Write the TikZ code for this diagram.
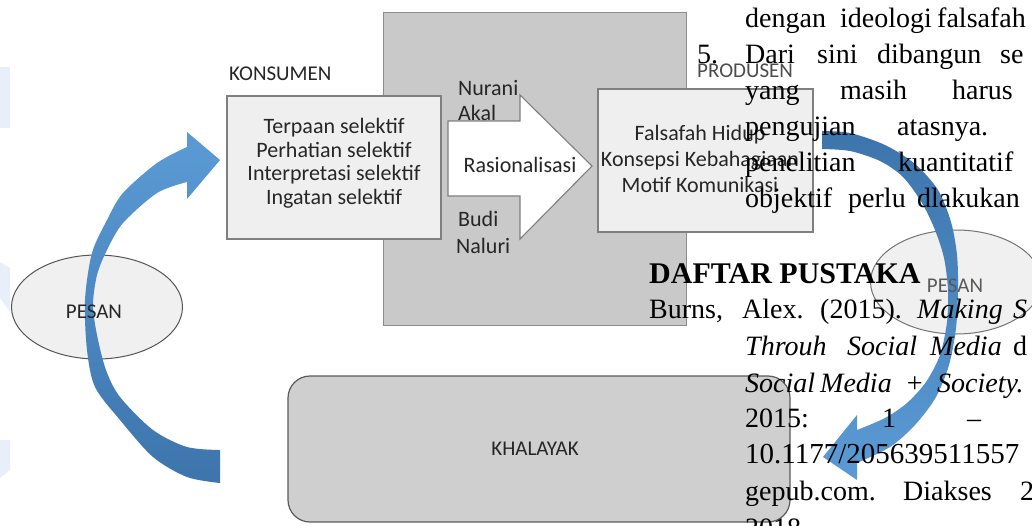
\documentclass[tikz,border=0pt]{standalone}
\usepackage{fontspec}
\setmainfont{Liberation Serif}
\newfontfamily\calfont{Carlito}
\usetikzlibrary{shapes.geometric}
\definecolor{rectgray}{HTML}{C9C9C9}
\definecolor{rectline}{HTML}{8C8C8C}
\definecolor{boxfill}{HTML}{EFEFEF}
\definecolor{boxline}{HTML}{7F7F7F}
\definecolor{khfill}{HTML}{CFCFCF}
\definecolor{khline}{HTML}{5A5A5A}
\definecolor{ellfill}{HTML}{F0F0F0}
\definecolor{ellline}{HTML}{555555}
\definecolor{blueL}{HTML}{5B9BD5}
\definecolor{blueD}{HTML}{3D74AC}
\definecolor{diagtext}{HTML}{262626}
\definecolor{wm}{HTML}{E8EFFA}
\tikzset{
  dtext/.style={font={\calfont\fontsize{22}{23.5}\selectfont}, text=diagtext, inner sep=0pt},
  lbl/.style={font={\calfont\fontsize{21}{24}\selectfont}, text=diagtext, inner sep=0pt},
  boxst/.style={draw=boxline, fill=boxfill, line width=1.1pt, inner sep=0pt},
  ellst/.style={ellipse, draw=ellline, fill=ellfill, line width=1pt, inner sep=0pt, minimum width=171pt, minimum height=104pt},
  pg/.style={font={\fontsize{28}{36}\selectfont}, text=black, inner sep=0pt, anchor=base west},
  pgi/.style={pg, font={\fontsize{28}{36}\selectfont\itshape}},
}
\begin{document}
\begin{tikzpicture}[x=1pt,y=-1pt]
\useasboundingbox (0,0) rectangle (1032,525);
\clip (0,0) rectangle (1032,525);
\fill[white] (0,0) rectangle (1032,525);
% faint watermark shapes
\fill[wm] (0,67) rectangle (10,128);
\fill[wm] (0,262) -- (10,268) -- (10,312) -- (0,298) -- cycle;
\fill[wm] (0,440) -- (10,440) -- (10,470) -- (0,478) -- cycle;

% background grey rectangle
\node[draw=rectline, fill=rectgray, line width=1pt, inner sep=0pt, minimum width=303pt, minimum height=313pt] (prodbg) at (534.5,168.5) {};

% boxes
\node[boxst, minimum width=214pt, minimum height=143pt] (kons) at (334,167.5) {};
\node[boxst, minimum width=215pt, minimum height=143pt] (prod) at (705.5,160.5) {};

% big white arrow
\draw[draw=boxline, line width=1.1pt, fill=white] (448,121) -- (520,121) -- (520,95) -- (592,166) -- (520,239) -- (520,196) -- (448,196) -- cycle;

% texts in diagram
\node[dtext, align=center] (konstxt) at (334,163) {Terpaan selektif\\Perhatian selektif\\Interpretasi selektif\\Ingatan selektif};
\node[dtext, align=center, font={\calfont\fontsize{22}{26}\selectfont}] (prodtxt) at (700,159) {Falsafah Hidup\\Konsepsi Kebahagiaan\\Motif Komunikasi};
\node[dtext, anchor=base] (rasio) at (520,172) {Rasionalisasi};
\node[dtext, anchor=base west] (nurani) at (458,95) {Nurani};
\node[dtext, anchor=base west] (akal) at (458,120) {Akal};
\node[dtext, anchor=base west] (budi) at (458,226) {Budi};
\node[dtext, anchor=base west] (naluri) at (456,253) {Naluri};
\node[lbl, anchor=base west] (konslbl) at (229,80) {KONSUMEN};
\node[lbl, anchor=base west, text=black!70] (prodlbl) at (697,77) {PRODUSEN};

% KHALAYAK
\node[draw=khline, fill=khfill, line width=1.2pt, rounded corners=22pt, inner sep=0pt, minimum width=502pt, minimum height=146pt] (khal) at (539,449) {};
\node[lbl, anchor=base] (khaltxt) at (535,455) {KHALAYAK};

% ellipses
\node[ellst] (pesanL) at (97,307) {};
\node[ellst, draw=black!55] (pesanR) at (956,282) {};

% left curved arrow
\shade[top color=blueL, bottom color=blueD]
  (220,160) -- (187,132) -- (187,147)
  -- plot[smooth] coordinates {(187,147) (157,163) (123,193) (107,220) (92,253) (85,300) (87,350) (95,387) (120,420) (153,457) (187,477) (220,483)}
  -- (220,450)
  -- plot[smooth] coordinates {(220,450) (187,447) (153,430) (120,397) (106,370) (97,335) (93,305) (97,275) (107,250) (123,223) (157,193) (187,182)}
  -- (187,199) -- cycle;

% right curved arrow
\shade[top color=blueD, bottom color=blueL]
  (823,457) -- (857,415) -- (857,430)
  -- plot[smooth] coordinates {(857,430) (885,418) (907,403) (926,382) (940,355) (947,322) (948,290) (944,258) (935,230) (922,203) (903,177) (880,161) (850,151) (822,149)}
  -- (822,131)
  -- plot[smooth] coordinates {(822,131) (850,133) (885,145) (915,164) (938,190) (951,222) (957,255) (958,290) (956,328) (949,365) (936,397) (915,425) (890,447) (857,463)}
  -- (857,480) -- cycle;

\node[lbl, anchor=base] (pesanLtxt) at (94,318) {PESAN};
\node[lbl, anchor=base, text=black!65] (pesanRtxt) at (955,292) {PESAN};

% overlaid page text
\node[pg] (p1a) at (745,27) {dengan};
\node[pg] (p1b) at (840,27) {ideologi};
\node[pg] (p1c) at (937,27) {falsafah};
\node[pg] (p2n) at (697,63) {5.};
\node[pg] (p2a) at (745,63) {Dari};
\node[pg] (p2b) at (817,63) {sini};
\node[pg] (p2c) at (877,63) {dibangun};
\node[pg] (p2d) at (1000,63) {se};
\node[pg] (p3a) at (745,99) {yang};
\node[pg] (p3b) at (840,99) {masih};
\node[pg] (p3c) at (952,99) {harus};
\node[pg] (p4a) at (745,135) {pengujian};
\node[pg] (p4b) at (897,135) {atasnya.};
\node[pg] (p5a) at (745,171) {penelitian};
\node[pg] (p5b) at (898,171) {kuantitatif};
\node[pg] (p6a) at (745,207) {objektif};
\node[pg] (p6b) at (848,207) {perlu};
\node[pg] (p6c) at (917,207) {dlakukan};
\node[pg, font={\fontsize{30}{36}\selectfont\bfseries}] (dp) at (649,283) {DAFTAR PUSTAKA};
\node[pg] (r1a) at (649,318) {Burns,};
\node[pg] (r1b) at (742,318) {Alex.};
\node[pg] (r1c) at (820,318) {(2015).};
\node[pgi] (r1d) at (917,318) {Making};
\node[pgi] (r1e) at (1013,318) {S};
\node[pgi] (r2a) at (745,355) {Throuh};
\node[pgi] (r2b) at (847,355) {Social};
\node[pgi] (r2c) at (930,355) {Media};
\node[pg] (r2d) at (1013,355) {d};
\node[pgi] (r3a) at (745,392) {Social};
\node[pgi] (r3b) at (820,392) {Media};
\node[pgi] (r3c) at (905,392) {+};
\node[pgi] (r3d) at (937,392) {Society.};
\node[pg] (r4a) at (745,427) {2015:};
\node[pg] (r4b) at (882,427) {1};
\node[pg] (r4c) at (967,427) {–};
\node[pg, font={\fontsize{29}{36}\selectfont}] (r5a) at (745,463) {10.1177/205639511557};
\node[pg] (r6a) at (745,500) {gepub.com.};
\node[pg] (r6b) at (903,500) {Diakses};
\node[pg] (r6c) at (1020,500) {24};
\node[pg] (r7a) at (745,537) {2018};
\end{tikzpicture}
\end{document}
